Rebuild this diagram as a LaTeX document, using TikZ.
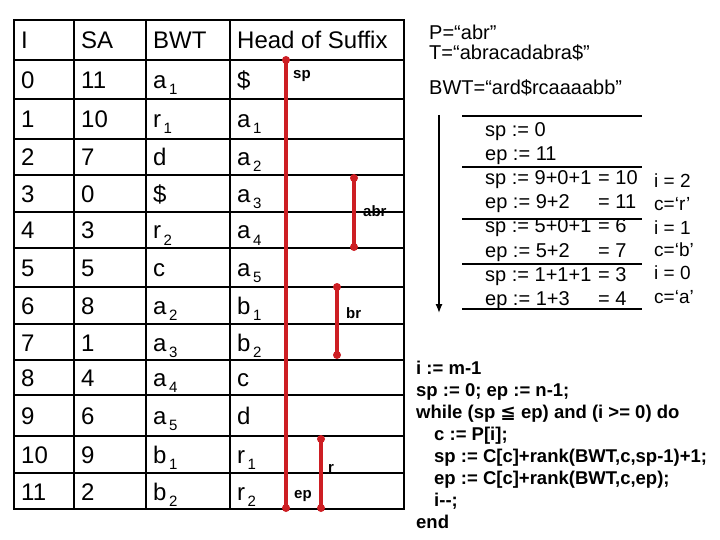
\documentclass[tikz,border=0pt]{standalone}
\usepackage{fontspec}
\setmainfont{Liberation Sans}
\newfontfamily\djv{DejaVu Sans}
\usetikzlibrary{arrows.meta}
\definecolor{redline}{RGB}{205,30,35}
\newcommand{\tsub}[1]{\kern2.5pt\raisebox{-6pt}{\fontsize{15}{15}\selectfont #1}}
\begin{document}
\begin{tikzpicture}[x=1pt,y=-1pt,
  cell/.style={anchor=base west, inner sep=0pt, font=\fontsize{24}{24}\selectfont},
  gridline/.style={line width=2.8pt, line cap=rect},
  redbar/.style={draw=redline, line width=3.2pt},
  lab/.style={anchor=base west, inner sep=0pt, font=\fontsize{15}{15}\selectfont\bfseries},
  note/.style={anchor=base west, inner sep=0pt, font=\fontsize{20}{20}\selectfont},
  side/.style={anchor=base west, inner sep=0pt, font=\fontsize{19}{19}\selectfont},
  code/.style={anchor=base west, inner sep=0pt, font=\fontsize{18.5}{18.5}\selectfont\bfseries},
  rule/.style={line width=1.1pt}
]
\useasboundingbox (0,0) rectangle (720,540);
% table grid
\draw[gridline] (14,20) rectangle (404,509);
\foreach \y in {60,99,139,175,212,248,287,324,360,395,436,473}
  \draw[gridline] (14,\y) -- (404,\y);
\foreach \x in {74,146,230}
  \draw[gridline] (\x,20) -- (\x,509);
% header
\node[cell] (hI) at (21,48.5) {I};
\node[cell] (hSA) at (81,48.5) {SA};
\node[cell] (hBWT) at (153,48.5) {BWT};
\node[cell] (hHS) at (237,48.5) {Head of Suffix};
% rows
\foreach \r/\yc/\a/\b/\c/\d in {
  0/79.5/0/11/a\tsub{1}/\$,
  1/119/1/10/r\tsub{1}/a\tsub{1},
  2/157/2/7/d/a\tsub{2},
  3/193.5/3/0/\$/a\tsub{3},
  4/230/4/3/r\tsub{2}/a\tsub{4},
  5/267.5/5/5/c/a\tsub{5},
  6/305.5/6/8/a\tsub{2}/b\tsub{1},
  7/342/7/1/a\tsub{3}/b\tsub{2},
  8/377.5/8/4/a\tsub{4}/c,
  9/415.5/9/6/a\tsub{5}/d,
  10/454.5/10/9/b\tsub{1}/r\tsub{1},
  11/491/11/2/b\tsub{2}/r\tsub{2}}{
  \node[cell] (I\r) at (21,\yc+9) {\a};
  \node[cell] (SA\r) at (81,\yc+9) {\b};
  \node[cell] (BWT\r) at (153,\yc+9) {\c};
  \node[cell] (HS\r) at (237,\yc+9) {\d};
}
% red ranges
\coordinate (spT) at (286,60);
\coordinate (epB) at (286,508);
\coordinate (aT) at (354,178);
\coordinate (aB) at (354,247);
\coordinate (bT) at (337,287);
\coordinate (bB) at (337,355);
\coordinate (rT) at (321,439);
\coordinate (rB) at (321,508);
\draw[redbar] (spT) -- (epB);
\draw[redbar] (aT) -- (aB);
\draw[redbar] (bT) -- (bB);
\draw[redbar] (rT) -- (rB);
\foreach \p in {spT,epB,aT,aB,bT,bB,rT,rB}
  \fill[redline] (\p) circle (4pt);
\node[lab] (lsp) at (293,79) {sp};
\node[lab] (lep) at (294,498) {ep};
\node[lab] (labr) at (363,217) {abr};
\node[lab] (lbr) at (346,318) {br};
\node[lab] (lr) at (328,472) {r};
% top notes
\node[note] (tP) at (429,40) {P=“abr”};
\node[note] (tT) at (429,60) {T=“abracadabra\$”};
\node[note] (tB) at (429,95) {BWT=“ard\$rcaaaabb”};
% arrow
\coordinate (arT) at (439,115);
\coordinate (arB) at (439,313);
\draw[line width=1.3pt, -{Latex[length=9pt,width=7pt]}] (arT) -- (arB);
% derivation rules
\foreach \y in {116,167,219,264,309}
  \draw[rule] (462,\y) -- (642,\y);
\node[note] (d1) at (485,137) {sp := 0};
\node[note] (d2) at (485,161) {ep := 11};
\node[note] (d3) at (485,185) {\makebox[113pt][l]{sp := 9+0+1}= 10};
\node[note] (d4) at (485,209) {\makebox[113pt][l]{ep := 9+2}= 11};
\node[note] (d5) at (485,233) {\makebox[113pt][l]{sp := 5+0+1}= 6};
\node[note] (d6) at (485,257) {\makebox[113pt][l]{ep := 5+2}= 7};
\node[note] (d7) at (485,281) {\makebox[113pt][l]{sp := 1+1+1}= 3};
\node[note] (d8) at (485,305) {\makebox[113pt][l]{ep := 1+3}= 4};
% side column
\node[side] (s1) at (654,188) {i = 2};
\node[side] (s2) at (654,211) {c=‘r’};
\node[side] (s3) at (654,234) {i = 1};
\node[side] (s4) at (654,256) {c=‘b’};
\node[side] (s5) at (654,279) {i = 0};
\node[side] (s6) at (654,303) {c=‘a’};
% code
\node[code] (c1) at (416,374.5) {i := m-1};
\node[code] (c2) at (416,396.5) {sp := 0; ep := n-1;};
\node[code] (c3) at (416,418.5) {while (sp {\djv ≦} ep) and (i >= 0) do};
\node[code] (c4) at (434,440.5) {c := P[i];};
\node[code] (c5) at (434,462.5) {sp := C[c]+rank(BWT,c,sp-1)+1;};
\node[code] (c6) at (434,484.5) {ep := C[c]+rank(BWT,c,ep);};
\node[code] (c7) at (434,506.5) {i-{}-;};
\node[code] (c8) at (416,528.5) {end};
\end{tikzpicture}
\end{document}
